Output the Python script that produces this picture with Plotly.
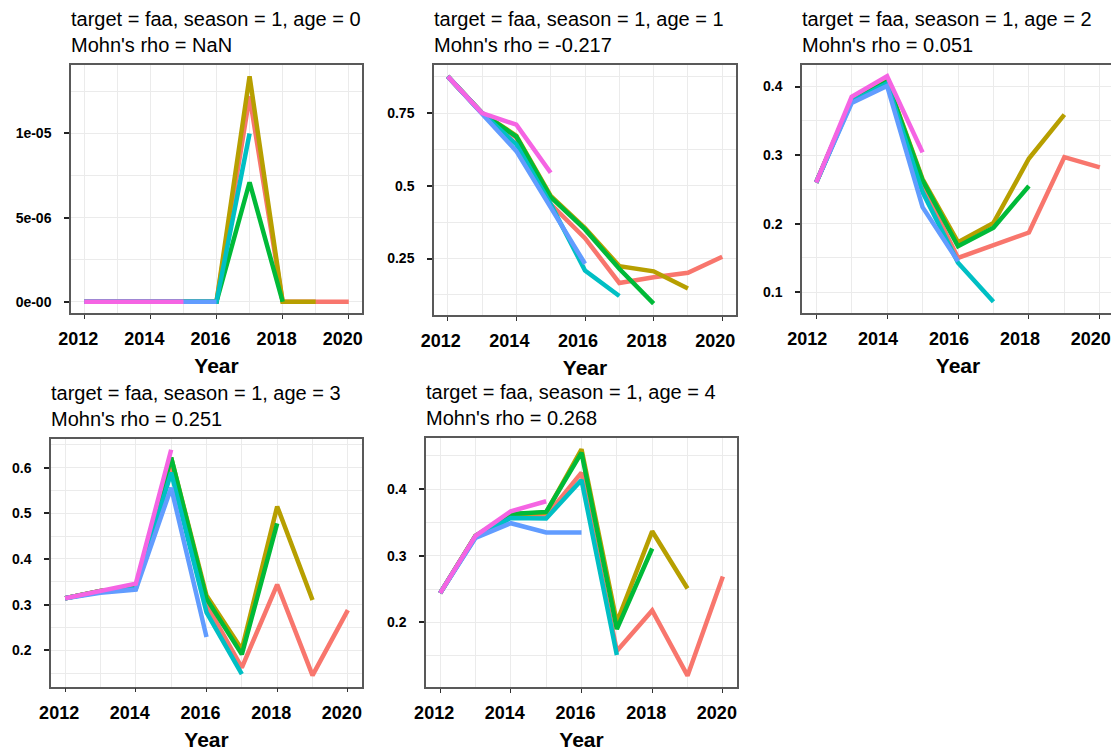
import plotly.graph_objects as go

# ---------------- data ----------------
YEARS = [2012, 2013, 2014, 2015, 2016, 2017, 2018, 2019, 2020]
PEEL_NAMES = ["2020", "2019", "2018", "2017", "2016", "2015"]
PEEL_COLORS = ["#F8766D", "#B79F00", "#00BA38", "#00BFC4", "#619CFF", "#F564E3"]

AGE0_2020 = [0, 0, 0, 0, 0, 1.22e-5, 0, 0, 0]
AGE0_2019 = [0, 0, 0, 0, 0, 1.34e-5, 0, 0]
AGE0_2018 = [0, 0, 0, 0, 0, 7.1e-6, 0]
AGE0_2017 = [0, 0, 0, 0, 0, 1.0e-5]
AGE0_2016 = [0, 0, 0, 0, 0]
AGE0_2015 = [0, 0, 0, 0]

AGE1_2020 = [0.876, 0.75, 0.665, 0.437, 0.32, 0.166, 0.186, 0.201, 0.256]
AGE1_2019 = [0.876, 0.75, 0.672, 0.465, 0.355, 0.224, 0.206, 0.147]
AGE1_2018 = [0.876, 0.75, 0.669, 0.461, 0.35, 0.215, 0.095]
AGE1_2017 = [0.876, 0.75, 0.642, 0.437, 0.209, 0.121]
AGE1_2016 = [0.876, 0.75, 0.619, 0.426, 0.232]
AGE1_2015 = [0.876, 0.75, 0.71, 0.545]

AGE2_2020 = [0.26, 0.38, 0.405, 0.255, 0.15, 0.168, 0.187, 0.297, 0.282]
AGE2_2019 = [0.26, 0.38, 0.408, 0.265, 0.173, 0.201, 0.295, 0.359]
AGE2_2018 = [0.26, 0.38, 0.407, 0.263, 0.167, 0.194, 0.255]
AGE2_2017 = [0.26, 0.378, 0.405, 0.246, 0.143, 0.086]
AGE2_2016 = [0.26, 0.376, 0.401, 0.224, 0.145]
AGE2_2015 = [0.26, 0.385, 0.415, 0.304]

AGE3_2020 = [0.314, 0.33, 0.338, 0.61, 0.30, 0.162, 0.344, 0.145, 0.288]
AGE3_2019 = [0.314, 0.33, 0.338, 0.622, 0.32, 0.202, 0.515, 0.31]
AGE3_2018 = [0.314, 0.33, 0.338, 0.622, 0.313, 0.191, 0.478]
AGE3_2017 = [0.314, 0.328, 0.335, 0.589, 0.283, 0.148]
AGE3_2016 = [0.314, 0.326, 0.333, 0.556, 0.229]
AGE3_2015 = [0.314, 0.33, 0.346, 0.639]

AGE4_2020 = [0.244, 0.33, 0.36, 0.36, 0.425, 0.157, 0.218, 0.12, 0.269]
AGE4_2019 = [0.244, 0.33, 0.362, 0.365, 0.46, 0.20, 0.337, 0.251]
AGE4_2018 = [0.244, 0.33, 0.363, 0.366, 0.455, 0.19, 0.311]
AGE4_2017 = [0.244, 0.328, 0.357, 0.356, 0.414, 0.151]
AGE4_2016 = [0.244, 0.327, 0.349, 0.335, 0.335]
AGE4_2015 = [0.244, 0.33, 0.367, 0.382]

AGES = [0, 1, 2, 3, 4]
MOHN_RHO = ["NaN", "-0.217", "0.051", "0.251", "0.268"]

X_TICKVALS = [2012, 2014, 2016, 2018, 2020]
X_TICKTEXT = ["2012", "2014", "2016", "2018", "2020"]

Y_TICKVALS_AGE0 = [0, 5e-6, 1e-5]
Y_TICKTEXT_AGE0 = ["0e-00", "5e-06", "1e-05"]
Y_TICKVALS_AGE1 = [0.25, 0.5, 0.75]
Y_TICKTEXT_AGE1 = ["0.25", "0.5", "0.75"]
Y_TICKVALS_AGE2 = [0.1, 0.2, 0.3, 0.4]
Y_TICKTEXT_AGE2 = ["0.1", "0.2", "0.3", "0.4"]
Y_TICKVALS_AGE3 = [0.2, 0.3, 0.4, 0.5, 0.6]
Y_TICKTEXT_AGE3 = ["0.2", "0.3", "0.4", "0.5", "0.6"]
Y_TICKVALS_AGE4 = [0.2, 0.3, 0.4]
Y_TICKTEXT_AGE4 = ["0.2", "0.3", "0.4"]

SERIES = [
    [AGE0_2020, AGE0_2019, AGE0_2018, AGE0_2017, AGE0_2016, AGE0_2015],
    [AGE1_2020, AGE1_2019, AGE1_2018, AGE1_2017, AGE1_2016, AGE1_2015],
    [AGE2_2020, AGE2_2019, AGE2_2018, AGE2_2017, AGE2_2016, AGE2_2015],
    [AGE3_2020, AGE3_2019, AGE3_2018, AGE3_2017, AGE3_2016, AGE3_2015],
    [AGE4_2020, AGE4_2019, AGE4_2018, AGE4_2017, AGE4_2016, AGE4_2015],
]
Y_TICKS = [
    (Y_TICKVALS_AGE0, Y_TICKTEXT_AGE0, 2.5e-6),
    (Y_TICKVALS_AGE1, Y_TICKTEXT_AGE1, 0.125),
    (Y_TICKVALS_AGE2, Y_TICKTEXT_AGE2, 0.05),
    (Y_TICKVALS_AGE3, Y_TICKTEXT_AGE3, 0.05),
    (Y_TICKVALS_AGE4, Y_TICKTEXT_AGE4, 0.05),
]

# ---------------- layout ----------------
# the page body has an 8px margin, so the figure is placed at (8, 8)
OFF = 8
W, H = 1119 - OFF, 756 - OFF
# panel boxes in window pixels: left, right, top, bottom
PANEL_BOX = [
    (71, 362, 65, 313),
    (434, 736, 65, 315),
    (802, 1114, 65, 313),
    (51, 362, 438.5, 686.7),
    (426, 737, 438, 687),
]
X_LABEL_SHIFT = [-6, -7, -9, -6, -6]

FONT = "Liberation Sans, Arial, sans-serif"
GRID = "#EBEBEB"

fig = go.Figure()
layout = dict(
    width=W, height=H, autosize=False,
    margin=dict(l=0, r=0, t=0, b=0, pad=0, autoexpand=False),
    paper_bgcolor="white", plot_bgcolor="white",
    showlegend=False,
    font=dict(family=FONT, color="black"),
)
annotations = []

for i, age in enumerate(AGES):
    n = i + 1
    xa = "x" if n == 1 else f"x{n}"
    ya = "y" if n == 1 else f"y{n}"
    for vals, name, color in zip(SERIES[i], PEEL_NAMES, PEEL_COLORS):
        fig.add_trace(go.Scatter(
            x=YEARS[:len(vals)], y=vals, mode="lines", name=name,
            line=dict(color=color, width=4.5), xaxis=xa, yaxis=ya,
        ))
    allv = [v for s in SERIES[i] for v in s]
    lo, hi = min(allv), max(allv)
    pad = 0.05 * (hi - lo)
    l, r, t, b = PANEL_BOX[i]
    l, r, t, b = l - OFF, r - OFF, t - OFF, b - OFF
    tv, tt, minor_step = Y_TICKS[i]
    layout["xaxis" if n == 1 else f"xaxis{n}"] = dict(
        domain=[l / W, r / W], anchor=ya, automargin=False,
        range=[2011.6, 2020.4],
        tickvals=X_TICKVALS, ticktext=X_TICKTEXT,
        tickfont=dict(size=18, weight="bold", color="black", family=FONT),
        ticks="outside", ticklen=4, tickcolor="#333333", tickwidth=1,
        ticklabelstandoff=5, ticklabelshift=X_LABEL_SHIFT[i],
        showgrid=True, gridcolor=GRID, gridwidth=1.2,
        minor=dict(dtick=1, tick0=2012, showgrid=True, gridcolor=GRID, gridwidth=0.8, ticks=""),
        showline=True, mirror=True, linecolor="#595959", linewidth=1.5,
        zeroline=False,
        title=dict(text="<b>Year</b>", font=dict(size=21, color="black", family=FONT), standoff=10),
    )
    layout["yaxis" if n == 1 else f"yaxis{n}"] = dict(
        domain=[1 - b / H, 1 - t / H], anchor=xa, automargin=False,
        range=[lo - pad, hi + pad],
        tickvals=tv, ticktext=tt,
        tickfont=dict(size=14, weight="bold", color="black", family=FONT),
        ticks="outside", ticklen=5, tickcolor="#222222", tickwidth=1.5,
        ticklabelstandoff=10,
        showgrid=True, gridcolor=GRID, gridwidth=1.2,
        minor=dict(dtick=minor_step, tick0=0, showgrid=True, gridcolor=GRID, gridwidth=0.8, ticks=""),
        showline=True, mirror=True, linecolor="#595959", linewidth=1.5,
        zeroline=False,
    )
    annotations.append(dict(
        text=f"target = faa, season = 1, age = {age}<br>Mohn's rho = {MOHN_RHO[i]}",
        xref="paper", yref="paper", x=l / W, y=1 - t / H,
        xanchor="left", yanchor="bottom", align="left", showarrow=False,
        font=dict(size=20, color="black", family=FONT), yshift=7, xshift=-2,
    ))

layout["annotations"] = annotations
fig.update_layout(**layout)
fig.write_html("out.html")
